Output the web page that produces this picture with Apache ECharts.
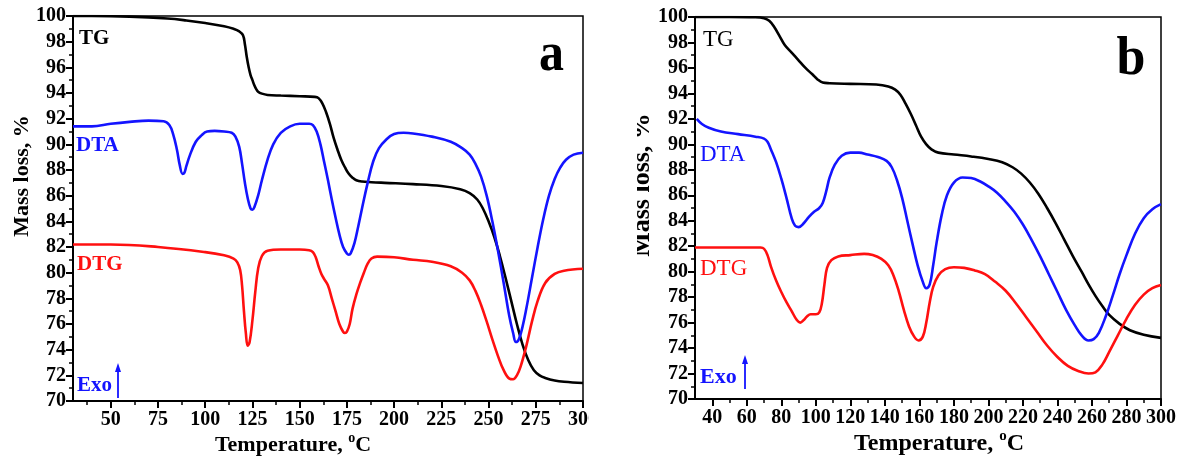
<!DOCTYPE html>
<html>
<head>
<meta charset="utf-8">
<script src="https://cdn.jsdelivr.net/npm/echarts@6/dist/echarts.min.js"></script>
<style>
  html, body { margin: 0; padding: 0; background: #fff; }
  #chart { width: 1179px; height: 456px; }
</style>
</head>
<body>
<div id="chart"></div>
<script>
// Thermal analysis curves, [temperature °C, value] pairs

// Panel a
const tgA = [[30,100.0],[40,100.0],[60,99.95],[80,99.8],[90,99.65],[100,99.45],[110,99.2],[115,99.0],[118,98.8],[120,98.5],[121,97.8],[122,96.8],[123,96.0],[124,95.4],[125,95.0],[126,94.6],[127,94.3],[128,94.1],[130,93.95],[133,93.85],[140,93.8],[150,93.75],[158,93.7],[160,93.6],[162,93.2],[164,92.5],[166,91.6],[168,90.5],[170,89.6],[172,88.8],[174,88.2],[176,87.7],[178,87.4],[180,87.2],[183,87.1],[188,87.05],[195,87.0],[210,86.9],[225,86.75],[235,86.5],[240,86.2],[244,85.7],[247,85.0],[250,84.0],[253,82.8],[256,81.3],[259,79.6],[262,77.8],[265,76.0],[268,74.4],[271,73.2],[274,72.4],[277,72.0],[280,71.8],[285,71.6],[290,71.5],[300,71.4]];
const dtaA = [[30,91.4],[40,91.4],[50,91.6],[60,91.75],[70,91.85],[78,91.8],[81,91.5],[83,90.8],[85,89.6],[86.5,88.4],[88,87.7],[89,87.8],[90,88.3],[92,89.2],[95,90.2],[98,90.7],[101,91.0],[105,91.05],[110,91.0],[114,90.9],[116,90.6],[118,89.8],[119.5,88.5],[121,87.0],[122.5,85.8],[124,85.0],[125,84.9],[126,85.1],[128,86.0],[130,87.2],[133,88.8],[136,90.0],[140,90.9],[145,91.4],[150,91.6],[155,91.6],[157,91.5],[159,91.0],[161,90.0],[163,88.6],[165,87.2],[167,85.7],[169,84.3],[171,83.0],[173,82.0],[175,81.5],[176,81.4],[177,81.5],[179,82.3],[181,83.6],[183,85.0],[186,87.0],[189,88.7],[192,89.7],[196,90.4],[200,90.8],[205,90.9],[210,90.85],[220,90.6],[230,90.2],[236,89.7],[240,89.2],[243,88.5],[246,87.5],[249,86.0],[252,84.0],[255,81.7],[258,79.2],[261,76.6],[263,75.3],[264.5,74.6],[266,74.8],[268,75.8],[270,77.2],[273,79.6],[276,82.0],[279,84.2],[282,86.0],[285,87.3],[288,88.2],[291,88.8],[295,89.2],[300,89.35]];
const dtgA = [[30,82.2],[50,82.2],[75,82.0],[100,81.6],[110,81.35],[115,81.1],[117,80.8],[118.5,80.2],[119.5,79.0],[120.5,77.0],[121.5,75.3],[122.5,74.3],[123.5,74.6],[125,76.3],[126.5,78.5],[128,80.3],[130,81.3],[133,81.7],[140,81.8],[150,81.8],[155,81.75],[157,81.6],[158.5,81.2],[160,80.5],[161.5,79.9],[163,79.5],[165,79.0],[167,78.0],[169,77.0],[171,76.0],[173,75.4],[174,75.3],[175,75.4],[176.5,76.0],[178,77.2],[180,78.3],[182,79.2],[184,80.0],[186,80.7],[188,81.1],[191,81.25],[200,81.2],[210,81.0],[220,80.85],[230,80.5],[236,80.0],[240,79.4],[243,78.6],[246,77.5],[249,76.2],[252,74.8],[255,73.5],[258,72.4],[261,71.75],[263,71.7],[265,72.0],[267,72.7],[270,74.3],[273,76.2],[276,77.8],[280,79.2],[285,79.9],[290,80.15],[300,80.3]];

// Panel b
const tgB = [[30,100.0],[50,100.0],[65,99.98],[70,99.9],[73,99.7],[76,99.2],[79,98.5],[82,97.8],[86,97.2],[90,96.6],[94,96.0],[98,95.5],[101,95.1],[104,94.85],[108,94.8],[120,94.75],[135,94.7],[142,94.55],[146,94.3],[149,93.9],[152,93.2],[155,92.4],[158,91.5],[161,90.6],[164,90.0],[167,89.6],[171,89.35],[180,89.2],[190,89.05],[200,88.85],[208,88.6],[214,88.2],[219,87.7],[224,87.0],[229,86.1],[234,85.0],[239,83.8],[244,82.5],[249,81.2],[254,80.0],[258,79.0],[262,78.1],[266,77.3],[270,76.6],[276,75.9],[282,75.4],[290,75.05],[300,74.8]];
const dtaB = [[31,92.0],[34,91.6],[38,91.3],[45,91.0],[55,90.8],[65,90.6],[70,90.45],[72,90.2],[74,89.6],[77,88.6],[80,87.3],[83,85.8],[86,84.2],[88,83.6],[90,83.5],[93,83.8],[96,84.3],[99,84.7],[102,85.0],[104,85.4],[106,86.3],[108,87.4],[111,88.4],[115,89.1],[120,89.35],[125,89.35],[130,89.2],[136,89.0],[141,88.7],[144,88.2],[147,87.2],[150,85.8],[153,84.0],[156,82.2],[159,80.5],[162,79.2],[164,78.7],[166,79.0],[168,80.5],[170,82.3],[173,84.5],[176,86.0],[180,87.0],[185,87.4],[190,87.35],[195,87.1],[200,86.7],[205,86.2],[210,85.5],[215,84.7],[220,83.7],[225,82.5],[230,81.2],[235,79.8],[240,78.4],[245,77.0],[250,75.8],[254,75.0],[258,74.6],[261,74.7],[264,75.2],[268,76.5],[272,78.1],[276,79.8],[280,81.3],[285,83.0],[290,84.2],[295,84.9],[300,85.3]];
const dtgB = [[30,81.9],[50,81.9],[68,81.9],[70,81.8],[72,81.3],[74,80.4],[77,79.3],[80,78.4],[83,77.6],[86,76.9],[89,76.2],[91,76.0],[93,76.2],[95,76.5],[97,76.65],[100,76.65],[102,76.8],[103.5,77.5],[105,79.0],[106.5,80.3],[109,80.9],[113,81.2],[120,81.3],[128,81.4],[133,81.3],[138,81.0],[142,80.5],[145,79.7],[148,78.5],[151,77.0],[154,75.7],[157,74.9],[159.5,74.6],[162,74.9],[164,76.0],[166,77.6],[168,78.8],[171,79.7],[175,80.2],[180,80.35],[186,80.3],[192,80.1],[198,79.8],[204,79.2],[210,78.5],[216,77.5],[222,76.4],[228,75.3],[234,74.2],[240,73.3],[246,72.6],[252,72.2],[258,72.0],[262,72.1],[266,72.7],[270,73.7],[275,75.0],[280,76.3],[285,77.4],[290,78.2],[295,78.7],[300,78.95]];

// Tick positions on the temperature axes
const xLabelsA = [50,75,100,125,150,175,200,225,250,275,300];
const xMinorA  = [37.5,62.5,87.5,112.5,137.5,162.5,187.5,212.5,237.5,262.5,287.5];
const xLabelsB = [40,60,80,100,120,140,160,180,200,220,240,260,280,300];
const xMinorB  = [50,70,90,110,130,150,170,190,210,230,250,270,290];

const SERIF = '"Liberation Serif", "Times New Roman", serif';
const BLACK = '#000000', BLUE = '#1414ff', RED = '#ff1010';

function xAxisPair(gridIndex, labels, minors) {
  return [{
    type: 'value', gridIndex, min: 30, max: 300, position: 'bottom',
    axisLine: { show: true, onZero: false, lineStyle: { color: BLACK, width: 2 } },
    axisTick: { show: true, customValues: labels, length: 7, lineStyle: { color: BLACK, width: 2 } },
    axisLabel: { customValues: labels, showMaxLabel: true, showMinLabel: true, margin: 9,
                 fontFamily: SERIF, fontWeight: 'bold', fontSize: 20, color: BLACK },
    splitLine: { show: false }
  }, {
    type: 'value', gridIndex, min: 30, max: 300, position: 'bottom', offset: 0,
    axisLine: { show: false },
    axisTick: { show: true, customValues: minors, length: 4, lineStyle: { color: BLACK, width: 1.5 } },
    axisLabel: { show: false },
    splitLine: { show: false }
  }];
}

function yAxis(gridIndex) {
  return {
    type: 'value', gridIndex, min: 70, max: 100, interval: 2,
    axisLine: { show: true, lineStyle: { color: BLACK, width: 2 } },
    axisTick: { show: true, length: 7, lineStyle: { color: BLACK, width: 2 } },
    minorTick: { show: true, splitNumber: 2, length: 4, lineStyle: { color: BLACK, width: 1.5 } },
    axisLabel: { margin: 7, fontFamily: SERIF, fontWeight: 'bold', fontSize: 20, color: BLACK },
    splitLine: { show: false }, minorSplitLine: { show: false }
  };
}

function curve(name, data, color, xi, yi) {
  return {
    name, type: 'line', data, xAxisIndex: xi, yAxisIndex: yi,
    showSymbol: false, smooth: 0.4,
    lineStyle: { color, width: 2.6 }, itemStyle: { color }, z: 3
  };
}

function label(text, x, y, color, size, bold) {
  return { type: 'text', x, y, z: 10,
    style: { text, fill: color, font: (bold ? 'bold ' : '') + size + 'px ' + SERIF,
             textAlign: 'left', textVerticalAlign: 'middle' } };
}

function exoArrow(x, y0, y1) {
  return [
    { type: 'line', z: 10, shape: { x1: x, y1: y0, x2: x, y2: y1 + 6 }, style: { stroke: BLUE, lineWidth: 1.8 } },
    { type: 'polygon', z: 10, shape: { points: [[x, y1], [x - 3, y1 + 9], [x + 3, y1 + 9]] }, style: { fill: BLUE } }
  ];
}

function xTitle(cx, cy, size) {
  return { type: 'text', x: cx, y: cy, z: 10,
    style: { text: '{m|Temperature, }{s|o}{m|C}', textAlign: 'center', textVerticalAlign: 'middle',
      rich: {
        m: { fontFamily: SERIF, fontWeight: 'bold', fontSize: size, lineHeight: size + 6, fill: BLACK },
        s: { fontFamily: SERIF, fontWeight: 'bold', fontSize: Math.round(size * 0.62), lineHeight: Math.round(size * 0.62), verticalAlign: 'top', fill: BLACK }
      } } };
}

function yTitle(cx, cy, size) {
  return { type: 'text', x: cx, y: cy, rotation: Math.PI / 2, z: 10,
    style: { text: 'Mass loss, %', fill: BLACK, font: 'bold ' + size + 'px ' + SERIF,
             textAlign: 'center', textVerticalAlign: 'middle' } };
}

const chart = echarts.init(document.getElementById('chart'), null, { renderer: 'canvas' });

const xa = xAxisPair(0, xLabelsA, xMinorA);
const xb = xAxisPair(1, xLabelsB, xMinorB);

chart.setOption({
  animation: false,
  backgroundColor: '#ffffff',
  grid: [
    { left: 73, top: 16, width: 510, height: 385, show: true, borderColor: BLACK, borderWidth: 1.5 },
    { left: 695, top: 17, width: 472, height: 382, show: true, borderColor: BLACK, borderWidth: 1.5 }
  ],
  xAxis: [xa[0], xa[1], xb[0], xb[1]],
  yAxis: [yAxis(0), yAxis(1)],
  series: [
    curve('TG', tgA, BLACK, 0, 0),
    curve('DTA', dtaA, BLUE, 0, 0),
    curve('DTG', dtgA, RED, 0, 0),
    curve('TG', tgB, BLACK, 2, 1),
    curve('DTA', dtaB, BLUE, 2, 1),
    curve('DTG', dtgB, RED, 2, 1)
  ],
  graphic: [
    // panel a annotations
    label('TG', 79, 39, BLACK, 21, true),
    label('DTA', 76, 146, BLUE, 21, true),
    label('DTG', 77, 265, RED, 21, true),
    label('Exo', 77, 386, BLUE, 21, true),
    ...exoArrow(118, 398, 363),
    { type: 'text', x: 551.5, y: 56, scaleY: 1.1, z: 10,
      style: { text: 'a', fill: BLACK, font: 'bold 50px ' + SERIF, textAlign: 'center', textVerticalAlign: 'middle' } },
    yTitle(22, 176, 22),
    xTitle(293, 445, 22),
    // panel b annotations
    label('TG', 703, 40, BLACK, 23, false),
    label('DTA', 700, 155, BLUE, 23, false),
    label('DTG', 700, 269, RED, 23, false),
    label('Exo', 700, 377, BLUE, 22, true),
    ...exoArrow(745, 389, 355),
    { type: 'text', x: 1131, y: 60, scaleY: 1.06, z: 10,
      style: { text: 'b', fill: BLACK, font: 'bold 52px ' + SERIF, textAlign: 'center', textVerticalAlign: 'middle' } },
    yTitle(642, 185, 26),
    xTitle(939, 444, 24),
    // white gutter between the two panels
    { type: 'rect', z: 20, shape: { x: 589, y: 0, width: 48, height: 456 }, style: { fill: '#ffffff' } }
  ]
});
</script>
</body>
</html>
